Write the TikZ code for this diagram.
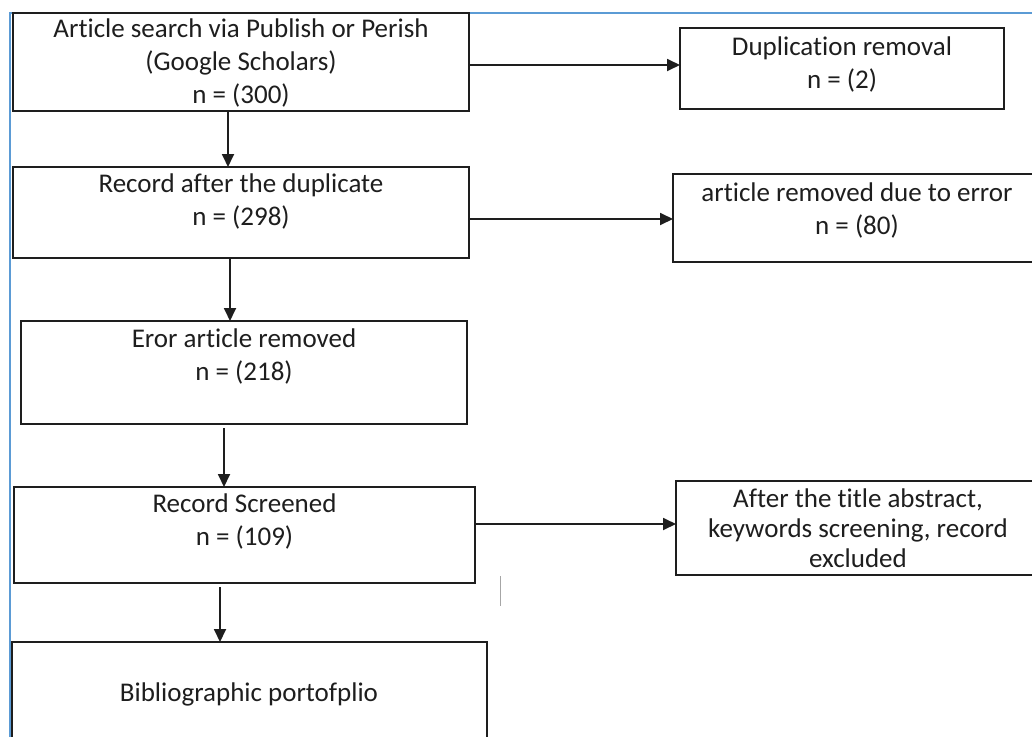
\documentclass[tikz,border=0pt]{standalone}
\usepackage{fontspec}
\setmainfont{Carlito}[Ligatures=NoCommon]
\usepackage{tikz}
\usetikzlibrary{arrows.meta,positioning}
\definecolor{frameblue}{RGB}{91,155,213}
\definecolor{inkgray}{RGB}{30,30,30}

\begin{document}
\begin{tikzpicture}[x=1pt,y=-1pt,
  stage/.style={draw=inkgray,line width=2pt,inner sep=0pt,outer sep=0pt},
  stagetext/.style={inner sep=0pt,align=center,text=inkgray,font=\fontsize{27}{33}\selectfont},
  flow/.style={draw=inkgray,line width=1.8pt,-{Triangle[length=13pt,width=12pt]}}]
\useasboundingbox (0,0) rectangle (1032,736);
\clip (0,0) rectangle (1032,736);
\fill[white] (0,0) rectangle (1032,736);
\draw[frameblue,line width=1.5pt] (10,745)--(10,13)--(1040,13);

% boxes
\node[stage,minimum width=456pt,minimum height=98pt] (search) at (241,62) {};
\node[stage,minimum width=324pt,minimum height=81pt] (dup) at (842,68.5) {};
\node[stage,minimum width=456pt,minimum height=91pt] (record) at (241,212.5) {};
\node[stage,minimum width=368pt,minimum height=88pt] (error) at (857,218) {};
\node[stage,minimum width=446pt,minimum height=103pt] (eror) at (244,372.5) {};
\node[stage,minimum width=461pt,minimum height=96pt] (screened) at (244.5,535) {};
\node[stage,minimum width=364pt,minimum height=94pt] (excluded) at (858,528) {};
\node[stage,minimum width=475pt,minimum height=110pt] (biblio) at (249.5,697) {};

\node[stagetext,below=6pt of search.north] (searchtext) {Article search via Publish or Perish\\(Google Scholars)\\n = (300)};
\node[stagetext,below=9pt of dup.north] (duptext) {Duplication removal\\n = (2)};
\node[stagetext,below=7pt of record.north] (recordtext) {Record after the duplicate\\n = (298)};
\node[stagetext,below=9pt of error.north] (errortext) {article removed due to error\\n = (80)};
\node[stagetext,below=8pt of eror.north] (erortext) {Eror article removed\\n = (218)};
\node[stagetext,below=7pt of screened.north] (screenedtext) {Record Screened\\n = (109)};
\node[stagetext,font=\fontsize{27}{30}\selectfont,below=8pt of excluded.north] (excludedtext) {After the title abstract,\\keywords screening, record\\excluded};
\node[stagetext] (bibliotext) at (249,694) {Bibliographic portofplio};

% arrows
\coordinate (row1) at (0,65);
\coordinate (row2) at (0,219);
\coordinate (row4) at (0,524);
\coordinate (col1) at (228,0);
\coordinate (col2) at (230,0);
\coordinate (col3) at (224,0);
\coordinate (col4) at (220,0);

\draw[flow] (search.east |- row1) -- (dup.west |- row1);
\draw[flow] (record.east |- row2) -- (error.west |- row2);
\draw[flow] (screened.east |- row4) -- (excluded.west |- row4);

\draw[flow] (search.south -| col1) -- (record.north -| col1);
\draw[flow] (record.south -| col2) -- (eror.north -| col2);
\draw[flow,shorten <=4pt] (eror.south -| col3) -- (screened.north -| col3);
\draw[flow,shorten <=4pt] (screened.south -| col4) -- (biblio.north -| col4);

\draw[gray!70,line width=0.8pt] (500,576)--(500,606);
\end{tikzpicture}
\end{document}
